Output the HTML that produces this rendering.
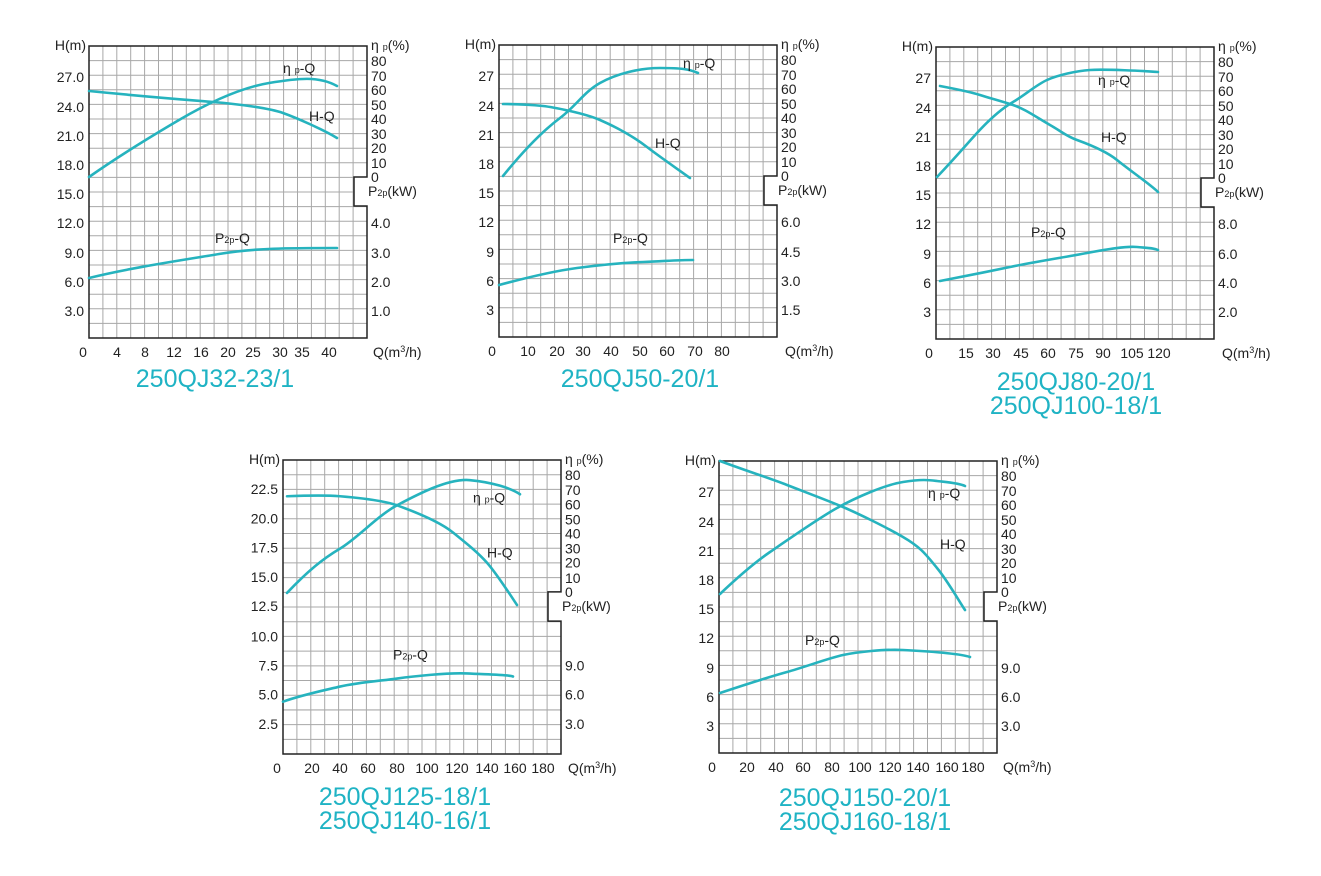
<!DOCTYPE html>
<html><head><meta charset="utf-8"><style>
html,body{margin:0;padding:0;background:#fff}
svg{display:block}
text{font-family:"Liberation Sans",Arial,sans-serif;fill:#222;font-size:14px}
.ti{fill:#1fb3c4;font-size:25px;text-anchor:middle}
.c{fill:none;stroke:#26b3be;stroke-width:2.6;stroke-linecap:round;stroke-linejoin:round}
.bd{fill:none;stroke:#222;stroke-width:1.5}
.gr{fill:none;stroke:#a8a8a8;stroke-width:1}
.l{text-anchor:end}
.s{font-size:9px}
</style></head><body>
<svg width="1321" height="876" viewBox="0 0 1321 876" xmlns="http://www.w3.org/2000/svg">
<defs>
<g id="frame">
<path class="gr" d="M13.9 0V292M27.8 0V292M41.7 0V292M55.6 0V292M69.5 0V292M83.4 0V292M97.3 0V292M111.2 0V292M125.1 0V292M139 0V292M152.9 0V292M166.8 0V292M180.7 0V292M194.6 0V292M208.5 0V292M222.4 0V292M236.3 0V292M250.2 0V292M264.1 0V292M0 14.6H278M0 29.2H278M0 43.8H278M0 58.4H278M0 73H278M0 87.6H278M0 102.2H278M0 116.8H278M0 131.4H278M0 146H278M0 160.6H278M0 175.2H278M0 189.8H278M0 204.4H278M0 219H278M0 233.6H278M0 248.2H278M0 262.8H278M0 277.4H278"/>
<rect x="265" y="131" width="14" height="29" fill="#fff"/>
<path class="bd" d="M0 0H278V131H265V160H278V292H0Z"/>
</g>
</defs>

<!-- Chart 1 -->
<g transform="translate(89,46)">
<use href="#frame"/>
<text class="l" x="-3" y="4">H(m)</text>
<text x="282" y="4">η <tspan class="s">p</tspan>(%)</text>
<text class="l" x="-5" y="36">27.0</text><text class="l" x="-5" y="66">24.0</text><text class="l" x="-5" y="95">21.0</text><text class="l" x="-5" y="124">18.0</text><text class="l" x="-5" y="153">15.0</text><text class="l" x="-5" y="182">12.0</text><text class="l" x="-5" y="212">9.0</text><text class="l" x="-5" y="241">6.0</text><text class="l" x="-5" y="270">3.0</text>
<text x="282" y="20">80</text><text x="282" y="35">70</text><text x="282" y="49">60</text><text x="282" y="64">50</text><text x="282" y="78">40</text><text x="282" y="93">30</text><text x="282" y="107">20</text><text x="282" y="122">10</text><text x="282" y="136">0</text>
<text x="279" y="150">P<tspan class="s">2p</tspan>(kW)</text>
<text x="282" y="182">4.0</text><text x="282" y="212">3.0</text><text x="282" y="241">2.0</text><text x="282" y="270">1.0</text>
<g text-anchor="middle"><text x="-6" y="311">0</text><text x="28" y="311">4</text><text x="56" y="311">8</text><text x="85" y="311">12</text><text x="112" y="311">16</text><text x="139" y="311">20</text><text x="164" y="311">25</text><text x="191" y="311">30</text><text x="213" y="311">35</text><text x="240" y="311">40</text></g>
<text x="284" y="311">Q(m<tspan class="s" dy="-5">3</tspan><tspan dy="5">/h)</tspan></text>
<path class="c" d="M0 131 C30 110 61 91 90 74 S150 42 180 37 S230 30 248 40"/>
<path class="c" d="M0 45 C60 51 100 54 124 56 S180 62 194 67 S235 84 248 92"/>
<path class="c" d="M0 232 C40 222 94 214 130 208 S200 202 248 202"/>
<text x="194" y="27">η <tspan class="s">p</tspan>-Q</text>
<text x="220" y="75">H-Q</text>
<text x="126" y="197">P<tspan class="s">2p</tspan>-Q</text>
</g>
<text class="ti" x="215" y="387">250QJ32-23/1</text>

<!-- Chart 2 -->
<g transform="translate(499,45)">
<use href="#frame"/>
<text class="l" x="-3" y="4">H(m)</text>
<text x="282" y="4">η <tspan class="s">p</tspan>(%)</text>
<text class="l" x="-5" y="36">27</text><text class="l" x="-5" y="66">24</text><text class="l" x="-5" y="95">21</text><text class="l" x="-5" y="124">18</text><text class="l" x="-5" y="153">15</text><text class="l" x="-5" y="182">12</text><text class="l" x="-5" y="212">9</text><text class="l" x="-5" y="241">6</text><text class="l" x="-5" y="270">3</text>
<text x="282" y="20">80</text><text x="282" y="35">70</text><text x="282" y="49">60</text><text x="282" y="64">50</text><text x="282" y="78">40</text><text x="282" y="93">30</text><text x="282" y="107">20</text><text x="282" y="122">10</text><text x="282" y="136">0</text>
<text x="279" y="150">P<tspan class="s">2p</tspan>(kW)</text>
<text x="282" y="182">6.0</text><text x="282" y="212">4.5</text><text x="282" y="241">3.0</text><text x="282" y="270">1.5</text>
<g text-anchor="middle"><text x="-7" y="311">0</text><text x="29" y="311">10</text><text x="58" y="311">20</text><text x="84" y="311">30</text><text x="112" y="311">40</text><text x="141" y="311">50</text><text x="168" y="311">60</text><text x="196" y="311">70</text><text x="223" y="311">80</text></g>
<text x="286" y="311">Q(m<tspan class="s" dy="-5">3</tspan><tspan dy="5">/h)</tspan></text>
<path class="c" d="M4 131 C25 105 45 85 61 73 S85 47 101 38 S140 23 161 23 S190 24 199 28"/>
<path class="c" d="M4 59 C25 59 35 60 44 61 S85 68 101 75 S135 92 148 102 S180 125 191 133"/>
<path class="c" d="M0 240 C30 232 55 226 78 223 S120 218 144 217 S180 215 194 215"/>
<text x="184" y="23">η <tspan class="s">p</tspan>-Q</text>
<text x="156" y="103">H-Q</text>
<text x="114" y="198">P<tspan class="s">2p</tspan>-Q</text>
</g>
<text class="ti" x="640" y="387">250QJ50-20/1</text>

<!-- Chart 3 -->
<g transform="translate(936,47)">
<use href="#frame"/>
<text class="l" x="-3" y="4">H(m)</text>
<text x="282" y="4">η <tspan class="s">p</tspan>(%)</text>
<text class="l" x="-5" y="36">27</text><text class="l" x="-5" y="66">24</text><text class="l" x="-5" y="95">21</text><text class="l" x="-5" y="124">18</text><text class="l" x="-5" y="153">15</text><text class="l" x="-5" y="182">12</text><text class="l" x="-5" y="212">9</text><text class="l" x="-5" y="241">6</text><text class="l" x="-5" y="270">3</text>
<text x="282" y="20">80</text><text x="282" y="35">70</text><text x="282" y="49">60</text><text x="282" y="64">50</text><text x="282" y="78">40</text><text x="282" y="93">30</text><text x="282" y="107">20</text><text x="282" y="122">10</text><text x="282" y="136">0</text>
<text x="279" y="150">P<tspan class="s">2p</tspan>(kW)</text>
<text x="282" y="182">8.0</text><text x="282" y="212">6.0</text><text x="282" y="241">4.0</text><text x="282" y="270">2.0</text>
<g text-anchor="middle"><text x="-7" y="311">0</text><text x="30" y="311">15</text><text x="57" y="311">30</text><text x="85" y="311">45</text><text x="112" y="311">60</text><text x="140" y="311">75</text><text x="167" y="311">90</text><text x="196" y="311">105</text><text x="223" y="311">120</text></g>
<text x="286" y="311">Q(m<tspan class="s" dy="-5">3</tspan><tspan dy="5">/h)</tspan></text>
<path class="c" d="M1 130 C20 110 30 98 41 86 S65 62 77 55 S100 38 111 33 S140 24 154 23 S210 24 222 25"/>
<path class="c" d="M4 39 C25 43 35 45 44 48 S65 54 77 58 S100 70 114 78 S130 89 141 93 S170 104 181 113 S215 138 222 145"/>
<path class="c" d="M4 234 C30 229 50 225 74 220 S130 210 151 206 S190 199 201 200 S218 201 222 203"/>
<text x="162" y="38">η <tspan class="s">p</tspan>-Q</text>
<text x="165" y="95">H-Q</text>
<text x="95" y="190">P<tspan class="s">2p</tspan>-Q</text>
</g>
<text class="ti" x="1076" y="390">250QJ80-20/1</text>
<text class="ti" x="1076" y="414">250QJ100-18/1</text>

<!-- Chart 4 -->
<g transform="translate(283,460) scale(1,1.007)">
<use href="#frame"/>
<text class="l" x="-3" y="4">H(m)</text>
<text x="282" y="4">η <tspan class="s">p</tspan>(%)</text>
<text class="l" x="-5" y="34">22.5</text><text class="l" x="-5" y="63">20.0</text><text class="l" x="-5" y="92">17.5</text><text class="l" x="-5" y="121">15.0</text><text class="l" x="-5" y="150">12.5</text><text class="l" x="-5" y="180">10.0</text><text class="l" x="-5" y="209">7.5</text><text class="l" x="-5" y="238">5.0</text><text class="l" x="-5" y="267">2.5</text>
<text x="282" y="20">80</text><text x="282" y="35">70</text><text x="282" y="49">60</text><text x="282" y="64">50</text><text x="282" y="78">40</text><text x="282" y="93">30</text><text x="282" y="107">20</text><text x="282" y="122">10</text><text x="282" y="136">0</text>
<text x="279" y="150">P<tspan class="s">2p</tspan>(kW)</text>
<text x="282" y="209">9.0</text><text x="282" y="238">6.0</text><text x="282" y="267">3.0</text>
<g text-anchor="middle"><text x="-6" y="311">0</text><text x="29" y="311">20</text><text x="57" y="311">40</text><text x="85" y="311">60</text><text x="114" y="311">80</text><text x="144" y="311">100</text><text x="174" y="311">120</text><text x="204" y="311">140</text><text x="232" y="311">160</text><text x="260" y="311">180</text></g>
<text x="285" y="311">Q(m<tspan class="s" dy="-5">3</tspan><tspan dy="5">/h)</tspan></text>
<path class="c" d="M4 132 C25 110 40 98 57 88 S95 55 114 45 S165 18 187 20 S228 28 237 34"/>
<path class="c" d="M4 36 C30 35 45 35 57 36 S100 40 114 45 S155 60 170 72 S195 92 204 102 S228 135 234 144"/>
<path class="c" d="M0 240 C20 233 40 229 57 225 S100 219 114 217 S165 211 184 212 S225 213 230 215"/>
<text x="190" y="42">η <tspan class="s">p</tspan>-Q</text>
<text x="204" y="97">H-Q</text>
<text x="110" y="198">P<tspan class="s">2p</tspan>-Q</text>
</g>
<text class="ti" x="405" y="805">250QJ125-18/1</text>
<text class="ti" x="405" y="829">250QJ140-16/1</text>

<!-- Chart 5 -->
<g transform="translate(719,461)">
<use href="#frame"/>
<text class="l" x="-3" y="4">H(m)</text>
<text x="282" y="4">η <tspan class="s">p</tspan>(%)</text>
<text class="l" x="-5" y="36">27</text><text class="l" x="-5" y="66">24</text><text class="l" x="-5" y="95">21</text><text class="l" x="-5" y="124">18</text><text class="l" x="-5" y="153">15</text><text class="l" x="-5" y="182">12</text><text class="l" x="-5" y="212">9</text><text class="l" x="-5" y="241">6</text><text class="l" x="-5" y="270">3</text>
<text x="282" y="20">80</text><text x="282" y="35">70</text><text x="282" y="49">60</text><text x="282" y="64">50</text><text x="282" y="78">40</text><text x="282" y="93">30</text><text x="282" y="107">20</text><text x="282" y="122">10</text><text x="282" y="136">0</text>
<text x="279" y="150">P<tspan class="s">2p</tspan>(kW)</text>
<text x="282" y="212">9.0</text><text x="282" y="241">6.0</text><text x="282" y="270">3.0</text>
<g text-anchor="middle"><text x="-7" y="311">0</text><text x="28" y="311">20</text><text x="57" y="311">40</text><text x="84" y="311">60</text><text x="113" y="311">80</text><text x="141" y="311">100</text><text x="171" y="311">120</text><text x="199" y="311">140</text><text x="228" y="311">160</text><text x="254" y="311">180</text></g>
<text x="284" y="311">Q(m<tspan class="s" dy="-5">3</tspan><tspan dy="5">/h)</tspan></text>
<path class="c" d="M1 133 C20 115 35 102 51 91 S100 57 118 47 S165 24 184 21 S210 19 218 20 S240 22 246 25"/>
<path class="c" d="M1 0 C25 9 50 17 68 24 S110 40 124 46 S165 65 184 76 S208 95 218 107 S240 140 246 149"/>
<path class="c" d="M1 232 C25 224 50 216 68 211 S110 197 124 194 S165 188 184 189 S240 192 251 196"/>
<text x="209" y="37">η <tspan class="s">p</tspan>-Q</text>
<text x="221" y="88">H-Q</text>
<text x="86" y="184">P<tspan class="s">2p</tspan>-Q</text>
</g>
<text class="ti" x="865" y="806">250QJ150-20/1</text>
<text class="ti" x="865" y="830">250QJ160-18/1</text>
</svg>
</body></html>
